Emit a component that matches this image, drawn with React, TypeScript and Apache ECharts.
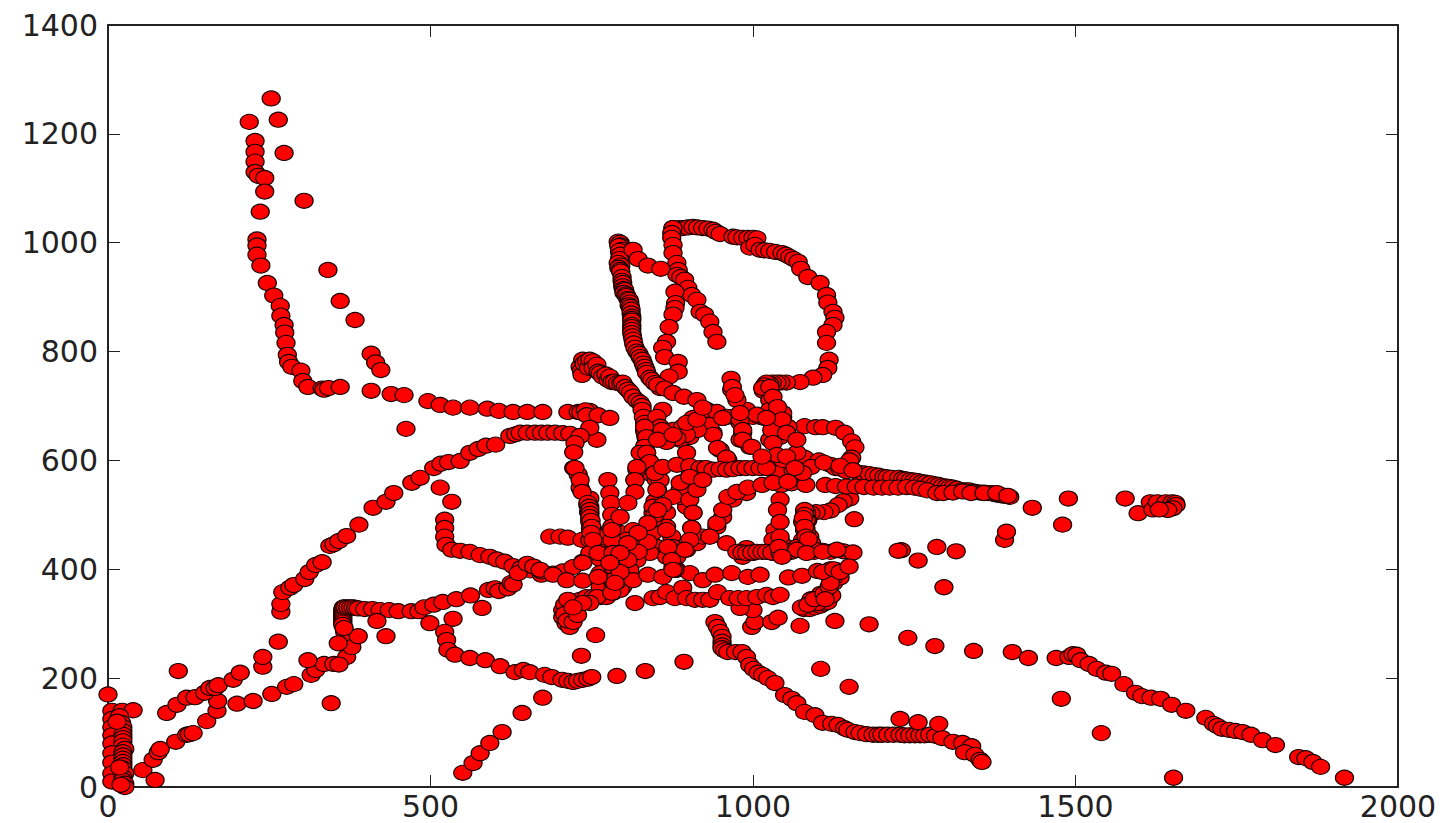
import React, { useEffect, useRef } from "react";
import * as echarts from "echarts";

const xTicks = [0, 500, 1000, 1500, 2000];
const yTicks = [0, 200, 400, 600, 800, 1000, 1200, 1400];

const upperLeft = [[253,1265],[219,1222],[264,1226],[228,1187],[228,1167],[273,1165],[228,1149],[228,1130],[233,1123],[243,1119],[243,1094],[304,1077],[236,1057],[231,1006],[231,995],[231,978],[237,958],[247,926],[257,903],[267,884],[268,866],[273,849],[274,835],[276,816],[278,794],[280,781],[285,772],[299,765],[302,746],[310,735],[332,732],[335,730],[342,733],[360,735],[341,950],[360,893],[383,858],[408,796],[415,780],[423,766],[408,728],[439,722],[459,720],[462,658],[496,709],[515,702],[535,697],[561,697],[588,695],[606,691],[628,689],[650,689],[674,689],[713,689],[729,689],[747,691],[733,688],[740,692],[742,683],[760,683],[778,678],[758,638],[747,660]];

const lowerLeftA = [[54,31],[73,13],[70,50],[78,64],[81,70],[105,83],[122,96],[126,97],[132,99],[153,121],[169,140],[170,158],[200,153],[225,158],[254,171],[277,184],[288,189],[315,206],[322,215],[335,226],[350,226],[370,239],[346,154],[358,225]];
const lowerLeftB = [[91,136],[107,151],[122,164],[135,165],[150,173],[158,182],[166,182],[171,187],[194,197],[205,210],[109,213],[240,221],[240,239],[264,267],[310,233]];

const diagonal = [[268,322],[268,336],[271,358],[282,366],[288,371],[305,382],[312,395],[322,408],[332,413],[344,443],[350,446],[358,452],[370,461],[389,482],[411,513],[431,524],[443,540],[471,559],[484,568],[505,586],[516,594],[528,597],[546,599],[561,614],[574,621],[586,627],[601,629],[623,645],[632,648],[639,651],[650,651],[662,651],[672,651],[682,651],[693,651],[705,650],[716,649],[732,645],[724,632],[722,615],[722,586],[729,574],[732,550],[744,518],[747,491],[747,463],[748,475],[745,505],[747,530]];

const col330 = [[367,285],[370,270],[378,257],[388,277],[357,264],[365,330],[364,326],[364,322],[364,318],[364,314],[364,310],[364,306],[364,302],[364,298],[366,292],[368,330],[372,330],[376,330],[380,330],[384,329],[388,328],[398,327],[410,327],[422,325],[436,325],[450,323],[470,323],[482,323],[417,305],[431,277],[499,301],[490,330],[505,335],[519,340],[535,309],[540,345],[562,352],[580,329],[590,362],[600,365],[606,360],[620,365],[625,375]];

const trackE = [[522,491],[522,476],[522,460],[524,445],[533,436],[546,434],[561,432],[577,426],[592,423],[603,418],[615,414],[628,406],[640,402],[655,398],[672,390],[690,392],[705,396],[533,524],[515,550],[628,372],[636,393],[650,410],[660,405],[672,396]];

const trackF = [[522,285],[525,270],[527,252],[538,243],[561,237],[585,233],[608,222],[631,211],[644,215],[654,211],[677,206],[688,202],[704,197],[713,195],[721,193],[728,195],[736,197],[744,199],[750,202],[789,204],[833,213],[893,230],[734,241],[756,279],[550,26],[566,44],[577,62],[592,81],[611,101],[642,136],[674,164]];

const bottomArc = [[941,303],[945,294],[949,285],[952,276],[952,267],[952,260],[952,255],[956,251],[961,248],[973,248],[983,248],[990,239],[995,224],[1001,217],[1008,210],[1015,206],[1023,200],[1034,191],[1049,169],[1060,162],[1068,154],[1080,138],[1096,132],[1108,118],[1122,116],[1132,114],[1142,108],[1147,105],[1158,101],[1166,99],[1176,97],[1186,96],[1194,96],[1200,96],[1209,96],[1218,96],[1228,96],[1235,95],[1243,95],[1251,95],[1259,95],[1266,95],[1274,96],[1283,94],[1293,90],[1310,83],[1325,81],[1339,75],[1328,64],[1344,59],[1352,50],[1355,46],[1228,125],[1256,119],[1288,116],[1105,217],[1149,184]];

const tail = [[1240,274],[1282,259],[1342,250],[1402,248],[1427,237],[1470,237],[1490,239],[1496,244],[1502,243],[1508,233],[1521,226],[1533,217],[1547,210],[1556,208],[1575,189],[1593,173],[1603,167],[1617,164],[1632,162],[1649,151],[1671,140],[1702,127],[1714,116],[1720,112],[1727,107],[1738,105],[1748,103],[1759,101],[1772,96],[1790,86],[1810,77],[1846,55],[1857,53],[1868,46],[1880,37],[1917,17],[1540,99],[1652,17],[1478,162]];

const scatterLowRight = [[1180,299],[1127,305],[1073,296],[1079,327],[1088,327],[1096,330],[1104,333],[1110,337],[1116,340],[1122,352],[998,294],[1003,303],[1029,303],[1039,311],[1000,325],[980,329]];

const topArc = [[876,1027],[887,1027],[891,1027],[899,1028],[907,1029],[914,1028],[922,1027],[930,1026],[938,1024],[942,1020],[949,1016],[969,1011],[975,1010],[984,1009],[992,1009],[1000,1009],[1006,1008],[995,991],[1003,996],[1011,987],[1018,986],[1026,985],[1035,983],[1045,981],[1051,978],[1057,974],[1063,970],[1070,965],[1074,952],[1085,937],[1104,926],[1114,904],[1116,890],[1124,873],[1127,862],[1124,849],[1114,836],[1114,816],[1118,785],[1116,770],[1108,757],[1093,752],[1073,744],[1052,743],[1043,743],[1037,743],[1030,743],[1026,741],[1021,743],[1018,738],[1016,728],[1015,733],[1026,711],[1037,698],[1046,680]];

const track2 = [[876,1027],[874,1018],[874,1009],[876,996],[876,981],[882,963],[884,950],[882,941],[888,937],[894,932],[899,917],[905,904],[913,895],[918,873],[925,868],[933,855],[938,836],[944,818],[879,910],[880,889],[879,880],[876,868],[870,845],[866,818],[860,807],[863,790],[884,781],[884,763],[870,754],[856,733],[860,693]];

const leftDense = [[791,1002],[794,1000],[795,995],[792,994],[797,987],[793,985],[794,978],[793,970],[791,963],[795,958],[792,954],[794,950],[795,947],[797,937],[797,930],[798,926],[798,920],[799,915],[801,913],[800,908],[803,905],[804,902],[806,897],[808,895],[809,890],[808,885],[810,882],[811,877],[811,870],[812,864],[812,860],[812,857],[812,849],[812,845],[812,840],[812,834],[813,828],[814,822],[815,815],[817,807],[820,800],[823,796],[825,790],[828,785],[830,778],[832,772],[834,766],[835,761],[840,752],[843,748],[848,742],[852,739],[863,732],[876,724],[893,717],[913,711],[814,987],[822,970],[837,958],[857,952]];

const cluster780 = [[732,772],[734,765],[735,757],[736,785],[738,778],[742,782],[745,770],[747,785],[752,782],[752,770],[758,776],[760,763],[763,760],[767,754],[772,758],[775,748],[778,754],[781,744],[785,745],[790,742],[795,742],[798,743],[802,735],[806,730],[810,725],[814,717],[820,710],[825,706],[828,700],[828,693],[830,680],[832,669],[833,650],[834,643],[834,630],[835,614],[838,600],[848,588],[852,546],[845,504],[840,467],[825,436],[804,404],[789,375],[832,655],[833,628],[842,575],[850,565],[848,525],[842,485]];

const fillUpper = [[851,680],[856,662],[851,643],[876,656],[891,662],[907,678],[922,675],[902,643],[887,638],[871,643],[832,662],[835,643],[832,625],[825,614],[820,583],[817,564],[840,595],[848,577],[856,564],[953,678],[969,680],[980,669],[984,651],[980,638],[1000,680],[995,625],[1026,693],[1031,675],[1037,662],[1042,643],[1026,638],[1046,687],[1054,662],[1026,586],[1042,579],[1062,583],[1077,577],[1046,601],[1068,614],[928,693],[944,689],[959,680],[990,693],[1011,680],[938,651],[949,619],[961,601]];
const fillLower = [[747,515],[747,504],[747,487],[752,472],[758,459],[767,459],[794,467],[814,472],[804,454],[763,419],[778,430],[794,417],[747,430],[736,412],[766,393],[778,393],[798,393],[763,368],[783,375],[794,362],[773,349],[758,349],[747,338],[736,338],[721,330],[814,441],[825,454],[845,467],[851,441],[840,430],[820,417],[809,399],[866,504],[866,478],[874,460],[876,441],[882,423],[866,423],[876,399],[897,436],[913,448],[905,476],[907,504],[897,515],[887,533],[897,551],[922,460],[933,460],[944,478],[953,496],[969,528],[990,540],[1034,472],[1042,454],[1031,454],[1042,441],[1031,430],[1052,441],[990,439],[1000,430],[984,423],[1083,504],[1083,491],[1080,472],[1088,460],[1093,441],[1077,454],[1068,441]];
const fillSouthEast = [[1085,335],[1095,345],[1110,355],[1118,368],[1125,385],[1112,345],[1120,375],[1108,395],[1125,400],[1135,395]];

const strandA = [[724,586],[732,564],[735,542],[744,522],[746,515],[747,509],[747,502],[747,496],[749,489],[750,478],[749,467],[752,454],[760,430]];
const strandB = [[775,564],[778,540],[780,522],[781,500],[781,478],[781,454],[783,430],[783,404],[783,380],[781,357]];
const strandC = [[820,588],[817,564],[817,542],[806,522],[794,496],[781,472]];
const strandD = [[897,614],[899,588],[897,564],[887,546],[876,533],[860,518],[848,500],[837,485],[822,467],[806,448],[794,430],[778,412],[760,386]];
const strandE = [[835,614],[840,597],[848,577],[851,546],[845,515],[845,491],[837,450],[822,432],[806,417],[794,395],[786,375]];
const strandF = [[933,665],[938,647],[945,623],[959,605],[975,586],[914,656],[897,647],[882,641],[866,634]];
const strandG = [[902,528],[907,504],[905,476],[902,454],[894,436],[876,404],[879,399],[852,509],[866,472],[868,441],[874,417],[876,399],[918,564],[913,546]];
const strandH = [[933,460],[944,485],[953,509],[961,533],[975,542],[992,550],[1014,555],[1031,559],[1054,561]];
const strandI = [[1042,528],[1038,509],[1042,487],[1042,460],[1040,441],[1045,423]];
const strandJ = [[1018,678],[1029,656],[1031,632],[1037,610],[1052,607],[1065,586],[1026,735],[1031,717],[1038,698],[1045,675],[1052,651],[1068,638]];
const strandK = [[1080,509],[1077,487],[1083,467],[1091,448],[1096,436],[1080,500],[1078,494],[1080,478],[1082,460],[1086,455]];
const midLine = [[860,588],[882,592],[902,590],[918,586],[927,586],[938,583],[949,584],[959,583],[969,584],[980,586],[989,586],[1000,586],[1011,586],[1021,586]];
const lowLine = [[959,448],[975,432],[983,431],[990,430],[998,431],[1006,432],[1014,432],[1021,432],[1029,431],[1042,430],[1057,433],[1068,436],[1083,430],[1108,432],[1130,436]];
const row390 = [[670,399],[690,390],[711,380],[736,379],[763,393],[789,377],[814,380],[837,390],[860,386],[882,399],[902,393],[922,380],[941,390],[967,393],[992,386],[1011,390]];
const row350 = [[817,338],[845,347],[856,349],[866,358],[879,347],[891,366],[897,347],[910,344],[922,344],[933,344],[945,358],[964,347],[977,347],[990,347],[1006,349],[1021,353],[1031,349],[1042,353]];
const hookLeft = [[705,325],[705,312],[710,301],[716,294],[719,311],[725,322],[721,338],[732,344],[742,349],[752,349],[763,349],[773,353],[783,357],[798,368],[708,335],[713,344],[708,318],[712,306],[721,303],[728,316]];
const row460 = [[685,460],[701,460],[713,458],[735,454],[747,454],[721,404],[736,414],[752,430],[767,439],[809,430],[820,436],[840,448]];
const crossings = [[887,559],[902,570],[922,564],[859,656],[852,638],[876,647],[897,669],[913,675],[922,697],[953,678],[980,675],[1006,684],[1021,678],[967,730],[975,711],[980,687],[984,656],[984,638],[998,625],[1014,607],[966,750],[968,735],[972,720]];

const arcRight = [[1080,663],[1097,661],[1108,661],[1128,660],[1142,651],[1153,635],[1158,624],[1153,605],[1150,600]];
const topLine = [[1080,605],[1102,600],[1120,592],[1128,586],[1135,585],[1145,580],[1164,577],[1172,576],[1180,575],[1188,573],[1195,572],[1203,570],[1208,569],[1215,568],[1226,568],[1232,566],[1237,565],[1244,564],[1250,563],[1256,562],[1262,560],[1268,559],[1275,558],[1282,556],[1288,555],[1294,553],[1300,552],[1305,551],[1310,550],[1316,548],[1323,545],[1329,545],[1335,545],[1340,543],[1345,542],[1352,541],[1358,541],[1364,540],[1370,540],[1375,538],[1380,537],[1385,536],[1390,535],[1398,533],[1044,585],[1070,582],[1090,588],[1110,596],[1135,590],[1155,582]];
const bottomLine = [[1044,555],[1060,558],[1082,555],[1112,555],[1128,553],[1145,552],[1160,552],[1172,551],[1187,550],[1200,550],[1212,550],[1225,550],[1238,551],[1250,550],[1260,548],[1270,545],[1285,540],[1295,540],[1310,541],[1325,543],[1338,540],[1358,540],[1378,540],[1395,535]];
const rightBranch = [[1150,530],[1140,525],[1132,518],[1120,508],[1110,505],[1098,505],[1090,503],[1085,490],[1082,475],[1082,455],[1080,438],[1095,432],[1120,432],[1140,433],[1130,435],[1108,434],[1075,436],[1060,432]];
const eastStray = [[1157,492],[1155,431],[1149,405],[1230,435],[1225,434],[1256,416],[1285,441],[1296,367],[1315,433],[1390,454],[1393,469],[1433,513],[1480,482],[1489,530],[1577,530],[1597,503],[1616,523],[1620,510],[1627,523],[1640,523],[1650,523],[1655,522],[1656,518],[1651,512],[1643,509],[1630,510]];
const southEast = [[1055,385],[1076,388],[1100,397],[1120,400],[1125,375],[1105,355],[1090,345],[1075,330],[1100,338],[1125,390],[1130,398],[1135,385]];

const west = [[0,170],[6,140],[22,140],[39,141],[6,125],[18,130],[21,118],[6,110],[23,110],[23,103],[6,95],[23,96],[23,90],[6,80],[23,84],[23,76],[26,70],[6,62],[23,64],[23,58],[6,45],[23,52],[23,46],[6,25],[23,40],[23,34],[6,10],[26,25],[23,18],[23,12],[26,6],[26,0],[14,120],[18,36],[20,4]];

const allTracks = [west, upperLeft, lowerLeftA, lowerLeftB, diagonal, col330, trackE, trackF, bottomArc, tail, scatterLowRight, topArc, track2, leftDense, cluster780, hookLeft, row460, rightBranch, southEast, fillSouthEast, eastStray, arcRight, topLine, bottomLine, fillLower, fillUpper, strandK, lowLine, strandI, strandH, row350, row390, strandA, strandB, strandE, strandD, strandG, strandC, strandJ, strandF, midLine, crossings];

export default function App() {
  const ref = useRef<HTMLDivElement>(null);
  useEffect(() => {
    document.body.style.margin = "0";
    document.body.style.background = "#fff";
    const chart = echarts.init(ref.current!, null, { renderer: "svg" });
    const labelStyle = { fontFamily: "DejaVu Sans", fontSize: 30, color: "#222", formatter: (v: number) => String(v) };
    const tick = { show: true, inside: true, length: 12, lineStyle: { color: "#222", width: 1 } };
    const line = { show: true, lineStyle: { color: "#222", width: 2 } };
    chart.setOption({
      animation: false,
      backgroundColor: "#fff",
      grid: { left: 108, right: 45, top: 25, bottom: 36 },
      xAxis: [
        { type: "value", min: 0, max: 2000, interval: 500, position: "bottom", axisLine: { ...line, onZero: false }, axisTick: tick, splitLine: { show: false }, axisLabel: { ...labelStyle, margin: 4, customValues: xTicks, hideOverlap: false, showMaxLabel: true, showMinLabel: true } },
        { type: "value", min: 0, max: 2000, interval: 500, position: "top", axisLine: { ...line, onZero: false }, axisTick: tick, splitLine: { show: false }, axisLabel: { show: false } },
      ],
      yAxis: [
        { type: "value", min: 0, max: 1400, interval: 200, position: "left", axisLine: { ...line, onZero: false }, axisTick: tick, splitLine: { show: false }, axisLabel: { ...labelStyle, margin: 10, customValues: yTicks, showMaxLabel: true, showMinLabel: true } },
        { type: "value", min: 0, max: 1400, interval: 200, position: "right", axisLine: { ...line, onZero: false }, axisTick: tick, splitLine: { show: false }, axisLabel: { show: false } },
      ],
      series: [
        {
          type: "scatter",
          clip: true,
          symbol: "circle",
          symbolSize: [18, 15],
          large: false,
          itemStyle: { color: "#ff0000", borderColor: "#1a0000", borderWidth: 1.2, opacity: 1 },
          emphasis: { disabled: true },
          data: allTracks.flat(),
        },
      ],
    });
    return () => chart.dispose();
  }, []);
  return <div ref={ref} style={{ width: 1443, height: 823 }} />;
}
